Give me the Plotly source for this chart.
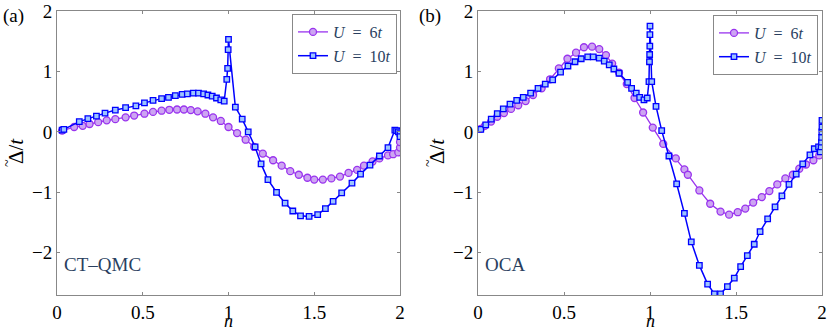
import plotly.graph_objects as go

# (a) CT-QMC
n_a_u6 = [0.03, 0.10, 0.15, 0.19, 0.24, 0.29, 0.34, 0.40, 0.45, 0.51, 0.56, 0.61, 0.655, 0.70, 0.74,
          0.78, 0.82, 0.865, 0.91, 0.955, 1.00, 1.05, 1.10, 1.15, 1.20, 1.26, 1.31, 1.36, 1.41, 1.46,
          1.50, 1.55, 1.60, 1.65, 1.70, 1.75, 1.79, 1.84, 1.88, 1.93, 1.96, 1.99, 2.0, 2.0]
d_a_u6 = [0.02, 0.08, 0.10, 0.13, 0.16, 0.19, 0.21, 0.24, 0.27, 0.30, 0.33, 0.35, 0.365, 0.37, 0.37,
          0.36, 0.34, 0.30, 0.24, 0.18, 0.08, -0.02, -0.13, -0.25, -0.36, -0.47, -0.56, -0.65, -0.71, -0.76,
          -0.79, -0.79, -0.77, -0.74, -0.68, -0.63, -0.56, -0.49, -0.44, -0.39, -0.37, -0.34, -0.26, -0.17]
n_a_u10 = [0.03, 0.04, 0.13, 0.18, 0.23, 0.28, 0.34, 0.40, 0.46, 0.51, 0.56, 0.61, 0.65, 0.69, 0.73,
           0.76, 0.795, 0.825, 0.855, 0.88, 0.905, 0.93, 0.955, 0.975, 0.99, 0.995, 0.998, 1.0, 1.04,
           1.08, 1.115, 1.155, 1.19, 1.23, 1.28, 1.33, 1.375, 1.42, 1.47, 1.52, 1.565, 1.61, 1.66,
           1.72, 1.77, 1.825, 1.88, 1.93, 1.97, 1.98, 1.99, 2.0, 2.0]
d_a_u10 = [0.03, 0.04, 0.17, 0.22, 0.26, 0.31, 0.36, 0.40, 0.43, 0.48, 0.52, 0.55, 0.57, 0.60, 0.62,
           0.63, 0.64, 0.64, 0.63, 0.61, 0.59, 0.56, 0.53, 0.51, 0.87, 1.05, 1.36, 1.53, 0.41,
           0.21, 0.0, -0.25, -0.53, -0.79, -1.0, -1.18, -1.31, -1.39, -1.40, -1.37, -1.27, -1.15, -1.01,
           -0.85, -0.70, -0.55, -0.40, -0.26, 0.03, 0.02, 0.0, -0.03, -0.08]

# (b) OCA
n_b_u6 = [0.016, 0.04, 0.076, 0.112, 0.151, 0.192, 0.234, 0.277, 0.32, 0.37, 0.419, 0.47, 0.52, 0.57,
          0.616, 0.663, 0.705, 0.744, 0.78, 0.82, 0.865, 0.91, 0.96, 1.016, 1.077, 1.15, 1.20, 1.22,
          1.287, 1.35, 1.41, 1.46, 1.51, 1.554, 1.60, 1.65, 1.694, 1.74, 1.787, 1.83, 1.868, 1.907,
          1.95, 1.984, 2.0]
d_b_u6 = [0.05, 0.10, 0.17, 0.25, 0.31, 0.38, 0.44, 0.51, 0.61, 0.72, 0.87, 1.05, 1.21, 1.31,
          1.40, 1.41, 1.37, 1.27, 1.13, 0.98, 0.79, 0.56, 0.32, 0.07, -0.20, -0.44, -0.62, -0.71,
          -0.97, -1.19, -1.32, -1.37, -1.33, -1.27, -1.17, -1.08, -0.98, -0.87, -0.77, -0.71, -0.61, -0.54,
          -0.47, -0.39, -0.23]
n_b_u10 = [0.016, 0.045, 0.077, 0.112, 0.147, 0.186, 0.225, 0.263, 0.306, 0.349, 0.391, 0.434, 0.48,
           0.523, 0.564, 0.60, 0.638, 0.67, 0.705, 0.734, 0.763, 0.79, 0.82, 0.87, 0.893, 0.92, 0.94,
           0.965, 0.984, 0.994, 0.997, 0.998, 0.999, 0.9995, 1.0, 1.01, 1.035, 1.068, 1.11, 1.155, 1.20,
           1.24, 1.287, 1.335, 1.374, 1.41, 1.45, 1.49, 1.527, 1.566, 1.606, 1.64, 1.684, 1.727, 1.767,
           1.808, 1.85, 1.888, 1.93, 1.955, 1.98, 1.99, 1.995, 1.997, 1.998, 1.999, 2.0, 2.0]
d_b_u10 = [0.04, 0.115, 0.21, 0.30, 0.38, 0.46, 0.52, 0.57, 0.64, 0.72, 0.79, 0.86, 0.99,
           1.09, 1.16, 1.21, 1.24, 1.24, 1.22, 1.17, 1.11, 1.04, 0.97, 0.82, 0.72, 0.64, 0.57,
           0.53, 0.56, 0.83, 1.16, 1.28, 1.42, 1.61, 1.75, 0.83, 0.42, 0.02, -0.40, -0.86, -1.35,
           -1.82, -2.21, -2.52, -2.68, -2.68, -2.56, -2.42, -2.23, -2.05, -1.86, -1.65, -1.44, -1.24, -1.06,
           -0.87, -0.70, -0.53, -0.38, -0.28, -0.25, -0.33, -0.25, -0.17, -0.09, 0.0, 0.08, 0.19]

x_ticks = [0, 0.5, 1, 1.5, 2]
x_ticklabels = ["0", "0.5", "1", "1.5", "2"]
y_ticks = [-2, -1, 0, 1, 2]
y_ticklabels = ["\u22122", "\u22121", "0", "1", "2"]

purple = "#9933EE"
purple_fill = "#CDA5F2"
blue = "#0000FF"
blue_fill = "#9CC4FF"
serif = "Liberation Serif"

W, H = 831, 334
top, bottom = 11, 295
PH = bottom - top


def px(x):
    return x / W


def py(y):
    # pixel row -> paper coordinate
    return 1 - (y - top) / PH


fig = go.Figure()

panels = [
    ("x", "y", "legend", n_a_u6, d_a_u6, n_a_u10, d_a_u10),
    ("x2", "y2", "legend2", n_b_u6, d_b_u6, n_b_u10, d_b_u10),
]
for xa, ya, lg, n6, d6, n10, d10 in panels:
    fig.add_trace(go.Scatter(x=n6, y=d6, xaxis=xa, yaxis=ya, legend=lg,
                             mode="lines+markers", name="<i>U</i>  =  6<i>t</i>",
                             line=dict(color=purple, width=1.3),
                             marker=dict(symbol="circle", size=7, color=purple_fill,
                                         line=dict(color=purple, width=1.3))))
    fig.add_trace(go.Scatter(x=n10, y=d10, xaxis=xa, yaxis=ya, legend=lg,
                             mode="lines+markers", name="<i>U</i>  =  10<i>t</i>",
                             line=dict(color=blue, width=1.5),
                             marker=dict(symbol="square", size=5.5, color=blue_fill,
                                         line=dict(color=blue, width=1.3))))

axis_common = dict(range=[0, 2], tickvals=x_ticks, ticktext=x_ticklabels, ticks="inside",
                   ticklen=3, tickcolor="#888888", showline=True, linecolor="#888888",
                   linewidth=1, mirror="ticks", showgrid=False, zeroline=False,
                   automargin=False, ticklabeloverflow="allow",
                   tickfont=dict(family=serif, size=19, color="black"))
yaxis_common = dict(axis_common, range=[-2.7, 2], tickvals=y_ticks, ticktext=y_ticklabels)

legend_common = dict(xref="paper", yref="paper", xanchor="right", yanchor="top",
                     bgcolor="white", bordercolor="#888888", borderwidth=1,
                     tracegroupgap=0, itemwidth=30, font=dict(family=serif, size=16))

annotations = [
    dict(text="(a)", x=px(1), y=py(3), xanchor="left", yanchor="top", size=19),
    dict(text="(b)", x=px(417), y=py(3), xanchor="left", yanchor="top", size=19),
    dict(text="<i>n</i>", x=px(228), y=py(333), xanchor="center", yanchor="bottom",
         height=12, valign="bottom", size=18),
    dict(text="<i>n</i>", x=px(650), y=py(333), xanchor="center", yanchor="bottom",
         height=12, valign="bottom", size=18),
]
for xc in (0, 421):
    # y-axis label, drawn rotated; the tilde sits over the Delta
    annotations.append(dict(text="\u0394/<i>t</i>", x=px(xc + 16), y=py(151), textangle=-90,
                            xanchor="center", yanchor="middle", size=21))
    annotations.append(dict(text="~", x=px(xc + 7), y=py(163), textangle=-90,
                            xanchor="center", yanchor="middle", size=14))
annotations = [dict(xref="paper", yref="paper", showarrow=False,
                    font=dict(family=serif, size=a.pop("size"), color="black"), **a)
               for a in annotations]
annotations += [
    dict(text="CT\u2013QMC", x=0.03, y=-2.2, xref="x", yref="y", xanchor="left",
         yanchor="middle", showarrow=False, font=dict(family=serif, size=19)),
    dict(text="OCA", x=0.03, y=-2.2, xref="x2", yref="y2", xanchor="left",
         yanchor="middle", showarrow=False, font=dict(family=serif, size=19)),
]

fig.update_layout(
    width=W, height=H,
    margin=dict(l=0, r=0, t=top, b=H - bottom, autoexpand=False),
    plot_bgcolor="white", paper_bgcolor="white",
    showlegend=True,
    xaxis=dict(axis_common, domain=[px(57), px(400)], anchor="y"),
    yaxis=dict(yaxis_common, anchor="x"),
    xaxis2=dict(axis_common, domain=[px(478), px(822)], anchor="y2"),
    yaxis2=dict(yaxis_common, anchor="x2"),
    legend=dict(legend_common, x=px(397), y=py(14)),
    legend2=dict(legend_common, x=px(818), y=py(15)),
    annotations=annotations,
)

# drop the default 8px page margin so the figure fills the window exactly
fig.write_html("out.html", config={"displayModeBar": False},
               post_script="document.body.style.margin = '0';")
